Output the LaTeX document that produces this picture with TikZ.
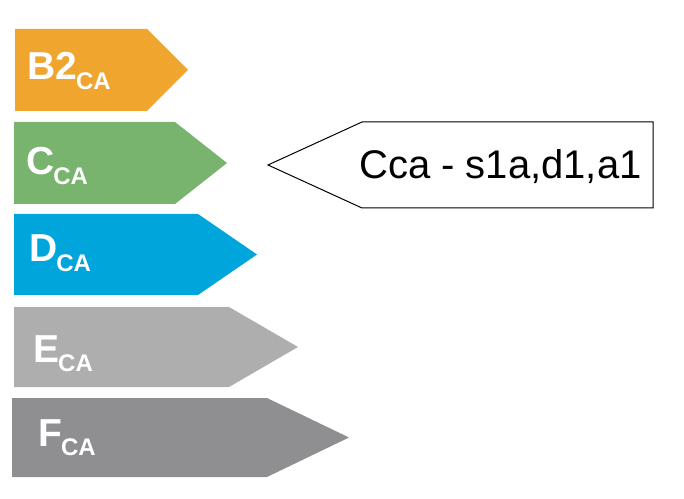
\documentclass[tikz,border=0pt]{standalone}
\usepackage{fontspec}
\setmainfont{Liberation Sans}
\usepackage{xcolor}
\usepackage{tikz}

\definecolor{barB}{HTML}{F0A52E}
\definecolor{barC}{HTML}{78B46E}
\definecolor{barD}{HTML}{00A5DB}
\definecolor{barE}{HTML}{AEAEAE}
\definecolor{barF}{HTML}{8F8F91}

\newcommand{\caclass}[1]{#1\hspace{-1pt}\raisebox{-9.5pt}{\fontsize{24}{24}\selectfont CA}}

\begin{document}
\begin{tikzpicture}[x=1pt,y=1pt,
    barlabel/.style={text=white,font=\bfseries\fontsize{39}{39}\selectfont,anchor=base west,inner sep=0pt}]
\useasboundingbox (0,0) rectangle (684,498);
% class arrows
\foreach \xl/\ya/\yb/\xr/\xt/\col in {15/469/387/147/188/barB,14/376/294/175/227/barC,14/284/203/198/257/barD,14/191/111/229/298/barE,12/100/21/267/349/barF}
    \fill[\col] (\xl,\ya) -- (\xr,\ya) -- (\xt,{(\ya+\yb)/2}) -- (\xr,\yb) -- (\xl,\yb) -- cycle;
\node[barlabel] (b2) at (27,418) {\caclass{B2}};
\node[barlabel] (c) at (26,323) {\caclass{C}};
\node[barlabel] (d) at (29,236) {\caclass{D}};
\node[barlabel] (e) at (33,136) {\caclass{E}};
\node[barlabel] (f) at (38,52) {\caclass{F}};
% result
\draw[line width=1pt,fill=white] (268,333) -- (362,376) -- (653,376) -- (653,290) -- (362,290) -- cycle;
\node[anchor=base west,inner sep=0pt,font=\fontsize{40}{40}\selectfont] (cca) at (359,319) {Cca - s1a,d1,a1};
\end{tikzpicture}
\end{document}
